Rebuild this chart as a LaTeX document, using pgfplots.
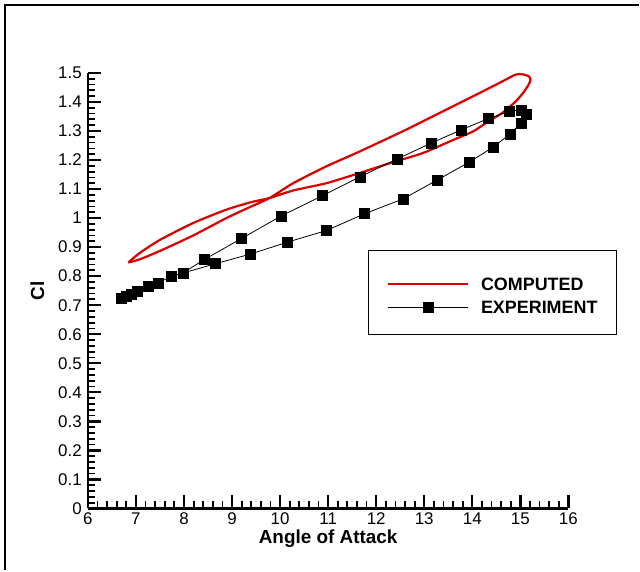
\documentclass[border=0pt]{standalone}
\usepackage{fontspec}
\setmainfont{Liberation Sans}
\usepackage{pgfplots}
\pgfplotsset{compat=1.18}
\definecolor{cfdred}{RGB}{218,0,0}

\begin{document}
\begin{tikzpicture}[x=1bp,y=1bp]
% page frame
\path (0,0) rectangle (640,571);
\draw[line width=1.4bp] (5,0) -- (5,566) -- (640,566);
\begin{axis}[
  at={(88bp,62bp)}, anchor=south west,
  scale only axis, width=481bp, height=436bp,
  xmin=6, xmax=16, ymin=0, ymax=1.5,
  axis x line*=bottom, axis y line*=left,
  axis line style={-, line width=2.2bp},
  xtick={6,7,8,9,10,11,12,13,14,15,16},
  ytick={0,0.1,0.2,0.3,0.4,0.5,0.6,0.7,0.8,0.9,1,1.1,1.2,1.3,1.4,1.5},
  minor x tick num=4, minor y tick num=4,
  xtick align=inside, ytick align=inside,
  xtick pos=lower, ytick pos=left,
  major tick length=13bp, minor tick length=7bp,
  major tick style={black, line width=2.4bp},
  minor tick style={black, line width=1.8bp},
  /pgf/number format/assume math mode=true,
  tick label style={font=\fontsize{17}{17}\selectfont},
  xticklabel style={inner sep=0pt, yshift=-4bp},
  yticklabel style={inner sep=0pt, xshift=-6bp},
  xlabel={Angle of Attack},
  ylabel={Cl},
  label style={font=\fontsize{19}{19}\selectfont\bfseries},
  xlabel style={at={(axis description cs:0.5,-0.069)}, anchor=center},
  ylabel style={at={(axis description cs:-0.105,0.5)}, anchor=center},
  clip=false,
  legend cell align=left,
  legend style={at={(axis description cs:0.582,0.594)}, anchor=north west,
    draw=black, line width=0.8bp, fill=white,
    font=\fontsize{18}{18}\selectfont\bfseries,
    inner xsep=19bp, inner ysep=21bp, row sep=3.5bp, column sep=12bp,
    nodes={inner sep=0pt, text height=12.9bp, text depth=0bp}},
  legend image code/.code={
    \path[draw=none, fill=none] (0bp,-6.4bp) rectangle (80bp,13bp);
    \draw[mark repeat=2,mark phase=2,#1] plot coordinates {(0bp,0bp) (40bp,0bp) (80bp,0bp)};
  },
]
% computed lift loop
\addplot[cfdred, line width=2.2bp, smooth, tension=0.4] coordinates {
  (6.84,0.847) (7.08,0.880) (7.50,0.925) (8.19,0.983) (8.88,1.029)
  (9.40,1.055) (9.78,1.069) (10.27,1.095) (10.96,1.120) (11.65,1.155)
  (12.30,1.190) (12.97,1.224) (13.60,1.269) (14.01,1.298) (14.29,1.328)
  (14.63,1.363) (14.91,1.403) (15.08,1.436) (15.18,1.462) (15.21,1.478)
  (15.17,1.489) (15.05,1.495) (14.90,1.494) (14.57,1.466) (14.01,1.419)
  (13.32,1.362) (12.63,1.305) (11.65,1.229) (10.96,1.178) (10.27,1.120)
  (9.78,1.069) (9.40,1.040) (8.88,1.000) (8.19,0.940) (7.50,0.887)
  (7.08,0.858) (6.84,0.847)
};
\addlegendentry{COMPUTED}
% measured lift loop
\addplot[black, line width=0.8bp, mark=square*, mark size=5bp,
  mark options={fill=black, line width=0.5bp}] coordinates {
  (6.70,0.725) (6.80,0.730) (6.90,0.737) (7.03,0.747) (7.25,0.764)
  (7.46,0.777) (7.74,0.799) (7.98,0.811) (8.42,0.857) (9.19,0.929)
  (10.03,1.008) (10.88,1.077) (11.66,1.142) (12.43,1.203) (13.14,1.258)
  (13.77,1.304) (14.34,1.343) (14.76,1.367) (15.01,1.373) (15.12,1.356)
  (15.01,1.328) (14.79,1.290) (14.44,1.245) (13.94,1.193) (13.28,1.132)
  (12.56,1.066) (11.76,1.015) (10.96,0.957) (10.15,0.917) (9.38,0.876)
  (8.66,0.843) (7.98,0.811)
};
\addlegendentry{EXPERIMENT}
\end{axis}
\end{tikzpicture}
\end{document}
